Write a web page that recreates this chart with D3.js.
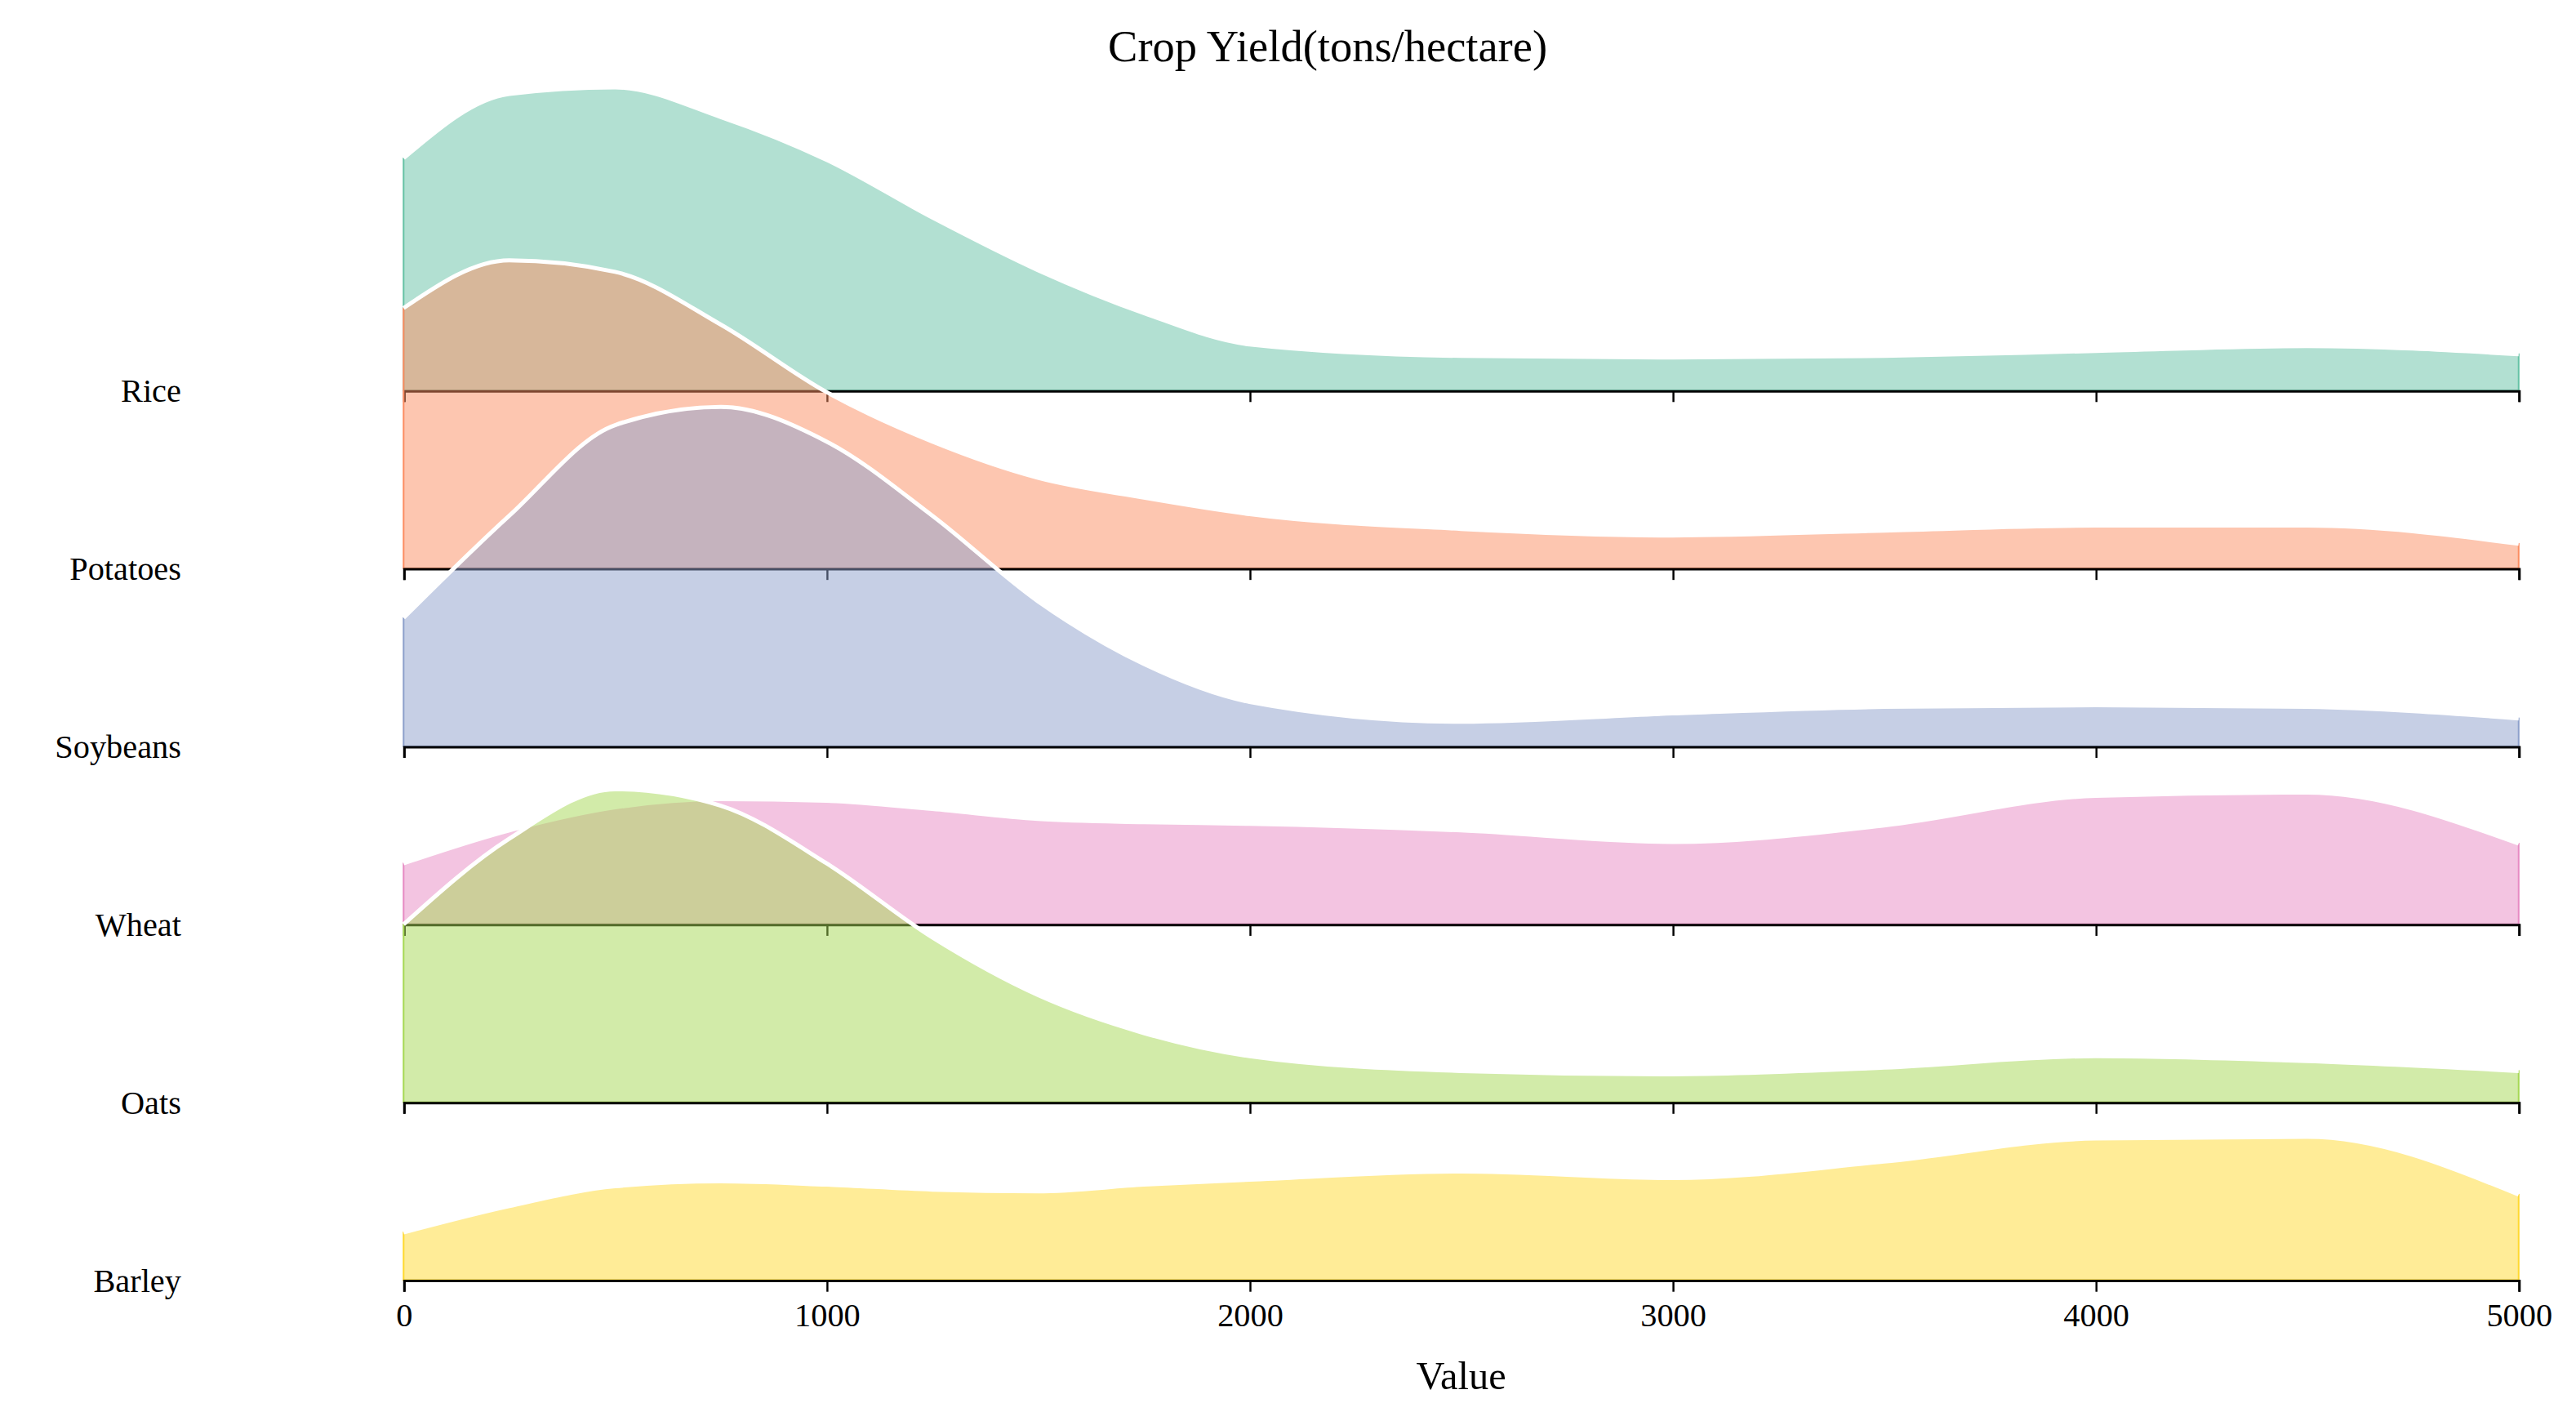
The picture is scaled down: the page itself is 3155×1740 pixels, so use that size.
<!DOCTYPE html>
<html>
<head>
<meta charset="utf-8">
<script src="https://cdn.jsdelivr.net/npm/d3@7"></script>
<style>
body{margin:0;background:#fff;}
text{font-family:"Liberation Serif","Times New Roman",serif;}
</style>
</head>
<body>
<div id="graphContainer"></div>
<script>
// дані: оцінки щільності
const crops = ["Rice","Potatoes","Soybeans","Wheat","Oats","Barley"];
const colors = ["#66c2a5","#fc8d62","#8da0cb","#e78ac3","#a6d854","#ffd92f"];
const grid = [0,250,500,750,1000,1250,1500,1750,2000,2500,3000,3500,4000,4500,5000];
const rice     = [141,180,184,166,140,105,73,47,28,21,20,21,24,27,22];
const potatoes = [158,187,180,148,107,77,55,43,33,24,20,23,26,26,15];
const soybeans = [78,140,195,206,185,140,88,50,27,15,20,24,25,24,17];
const wheat    = [37,57,71,76,75,70,64,62,61,57,50,60,78,80,49];
const oats     = [108,160,190,180,145,100,65,42,28,19,17,21,28,25,19];
const barley   = [29,45,57,60,58,55,54,58,61,66,62,72,86,87,52];
const series = [rice,potatoes,soybeans,wheat,oats,barley];
const xTicks = [0,1000,2000,3000,4000,5000];

let width = 3155, height = 1740;
let svg = d3.select("#graphContainer").append("svg")
    .attr("width", width).attr("height", height);
let g = svg.append("g").attr("transform","scale(2.0175)");

let x = d3.scaleLinear().domain([0,5000]).range([245,1529]);
let rows = d3.scalePoint().domain(crops).range([237,777]);
let h = d3.scaleLinear().domain([0,100]).range([0,100]);

crops.forEach((c,i) => {
    let base = rows(c);
    let pts = grid.map((v,j) => [v, series[i][j]]);
    let area = d3.area().curve(d3.curveMonotoneX)
        .x(d => x(d[0])).y0(base).y1(d => base - h(d[1]));
    let line = d3.line().curve(d3.curveMonotoneX)
        .x(d => x(d[0])).y(d => base - h(d[1]));
    g.append("path").attr("d", area(pts))
        .attr("fill", colors[i]).attr("fill-opacity",0.5)
        .attr("stroke", colors[i]).attr("stroke-width",1);
    g.append("path").attr("d", line(pts))
        .attr("fill","none").attr("stroke","#fff").attr("stroke-width",2.5);
    let ax = g.append("g").attr("transform",`translate(0,${base})`)
        .call(d3.axisBottom(x).tickValues(xTicks).tickSize(7).tickFormat(i==crops.length-1 ? d3.format("d") : ""));
    ax.select(".domain").attr("stroke","#000").attr("stroke-width",1.5);
    ax.selectAll(".tick line").attr("stroke","#000").attr("stroke-width",1.2);
    ax.selectAll(".tick text").attr("font-size",20).attr("dy","0.9em")
        .attr("font-family","Liberation Serif").attr("fill","#000");
    g.append("text").attr("x",110).attr("y",base+7).attr("text-anchor","end")
        .attr("font-size",20).text(c);
});

g.append("text").attr("x",806).attr("y",37).attr("text-anchor","middle")
    .attr("font-size",27).text("Crop Yield(tons/hectare)");
g.append("text").attr("x",887).attr("y",843).attr("text-anchor","middle")
    .attr("font-size",24).text("Value");
</script>
</body>
</html>
